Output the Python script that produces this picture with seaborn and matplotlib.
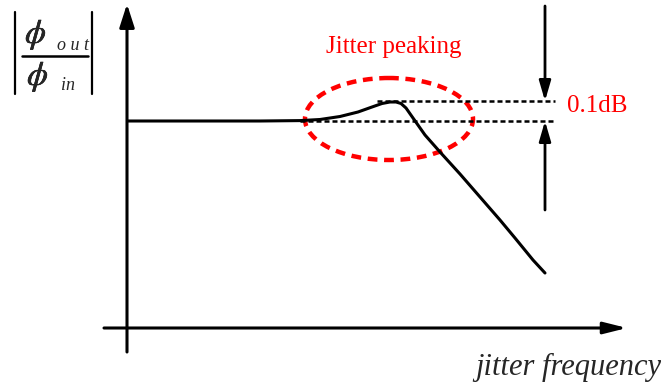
import matplotlib
matplotlib.use("Agg")
import matplotlib.pyplot as plt
import matplotlib.patheffects as pe
from matplotlib.patches import Ellipse
import seaborn as sns
import pandas as pd

sns.set_style("white")
plt.rcParams["font.family"] = ["Liberation Serif", "DejaVu Serif"]
plt.rcParams["mathtext.fontset"] = "stix"

# Closed-loop jitter transfer |phi_out/phi_in| vs jitter frequency (drawing units)
freq = [128, 200, 260, 300, 320, 340, 358, 372, 382, 390, 396, 401, 406, 413, 425, 440, 460, 480, 500, 515, 533, 545]
gain = [121, 121, 121, 120.6, 119.5, 116.5, 112, 107, 103.5, 102, 102, 103.5, 108, 118, 135, 152, 174, 197, 220, 238, 260, 273]
flat_level = 121
peak_level = 101
peak_label = "0.1dB"
peak_title = "Jitter peaking"
x_title = "jitter frequency"

df = pd.DataFrame({"f": freq, "g": gain})

fig = plt.figure(figsize=(6.63, 3.83), dpi=100)
ax = fig.add_axes([0, 0, 1, 1])

# response curve
sns.lineplot(data=df, x="f", y="g", ax=ax, color="black", lw=2.2, sort=False, estimator=None)
ax.set_xlim(0, 663)
ax.set_ylim(383, 0)
ax.axis("off")

# axes arrows
ax.annotate("", xy=(127, 4), xytext=(127, 352),
            arrowprops=dict(arrowstyle="-|>,head_length=1.4,head_width=0.45", color="black", lw=2.2, shrinkA=0, shrinkB=0))
ax.annotate("", xy=(627, 328), xytext=(104, 328),
            arrowprops=dict(arrowstyle="-|>,head_length=1.4,head_width=0.35", color="black", lw=2.2, shrinkA=0, shrinkB=0))

# reference levels
ax.plot([377, 555], [peak_level, peak_level], color="black", ls=(0, (2, 1.2)), lw=1.8)
ax.plot([300, 555], [flat_level, flat_level], color="black", ls=(0, (2, 1.2)), lw=1.8)

# 0.1 dB marker arrows
ax.annotate("", xy=(545, peak_level), xytext=(545, 6),
            arrowprops=dict(arrowstyle="-|>,head_length=1.2,head_width=0.35", color="black", lw=2, shrinkA=0, shrinkB=0))
ax.annotate("", xy=(545, flat_level), xytext=(545, 210),
            arrowprops=dict(arrowstyle="-|>,head_length=1.2,head_width=0.35", color="black", lw=2, shrinkA=0, shrinkB=0))
ax.text(567, 106, peak_label, color="red", fontsize=18, va="center", ha="left")

# peaking highlight
ax.add_patch(Ellipse((389, 119), 168, 82, fill=False, edgecolor="red", lw=3.2, ls=(0, (2.2, 1.5))))
ax.text(394, 47, peak_title, color="red", fontsize=18, va="center", ha="center")

# x-axis title
ax.text(661, 367, x_title, fontsize=22, style="italic", ha="right", va="center")

# y-axis label |phi_out / phi_in|
bold = [pe.withStroke(linewidth=0.4, foreground="black")]
ax.plot([15, 15], [12, 94], color="black", lw=1.6)
ax.plot([92, 92], [12, 94], color="black", lw=1.6)
ax.plot([22, 88], [56, 56], color="black", lw=1.8)
ax.text(36, 35, r"$\phi$", fontsize=24, ha="center", va="center", path_effects=bold)
ax.text(57, 45, "o u t", fontsize=13, style="italic", ha="left", va="center")
ax.text(38, 77, r"$\phi$", fontsize=24, ha="center", va="center", path_effects=bold)
ax.text(61, 85, "in", fontsize=13, style="italic", ha="left", va="center")

fig.savefig("out.png", dpi=100)
